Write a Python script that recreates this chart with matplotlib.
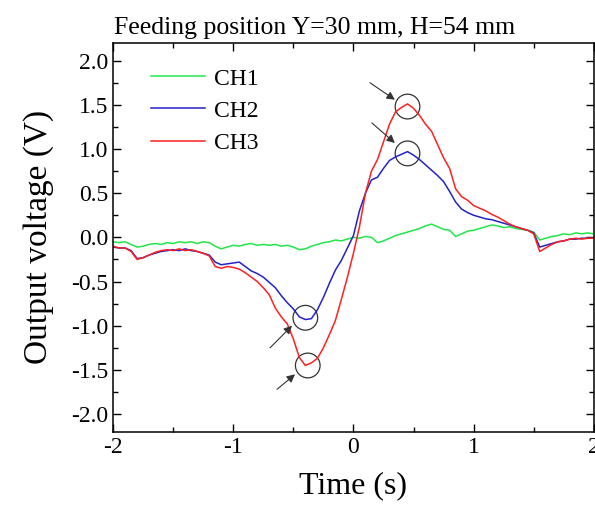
import numpy as np
import matplotlib.pyplot as plt
from matplotlib.patches import Ellipse

plt.rcParams['font.family'] = ['Liberation Serif', 'DejaVu Serif']
plt.rcParams['axes.unicode_minus'] = False

# time axis, sampled every 0.05 s from -2 to 2
time = np.round(np.arange(-2.0, 2.0001, 0.05), 2)

ch1 = [-0.05, -0.06, -0.05, -0.08, -0.11, -0.10, -0.08, -0.07, -0.08, -0.06,
       -0.07, -0.05, -0.06, -0.05, -0.07, -0.05, -0.06, -0.10, -0.13, -0.11,
       -0.09, -0.10, -0.08, -0.07, -0.09, -0.08, -0.09, -0.08, -0.10, -0.09,
       -0.11, -0.14, -0.13, -0.10, -0.08, -0.06, -0.05, -0.03, -0.04, -0.02,
       0.00, -0.01, 0.01, 0.00, -0.06, -0.04, -0.01, 0.02, 0.04, 0.06,
       0.08, 0.10, 0.13, 0.15, 0.12, 0.09, 0.08, 0.01, 0.04, 0.07,
       0.08, 0.10, 0.12, 0.14, 0.13, 0.11, 0.12, 0.10, 0.09, 0.08,
       0.06, -0.03, -0.01, 0.01, 0.02, 0.04, 0.03, 0.05, 0.04, 0.05,
       0.04]

ch2 = [-0.11, -0.12, -0.12, -0.15, -0.24, -0.23, -0.20, -0.18, -0.16, -0.15,
       -0.14, -0.15, -0.13, -0.15, -0.16, -0.18, -0.20, -0.28, -0.31, -0.30,
       -0.29, -0.28, -0.33, -0.38, -0.41, -0.45, -0.51, -0.57, -0.66, -0.74,
       -0.81, -0.90, -0.93, -0.92, -0.82, -0.68, -0.52, -0.37, -0.26, -0.12,
       0.02, 0.30, 0.50, 0.65, 0.68, 0.78, 0.87, 0.91, 0.94, 0.97,
       0.93, 0.88, 0.82, 0.76, 0.70, 0.63, 0.52, 0.40, 0.32, 0.28,
       0.25, 0.23, 0.21, 0.20, 0.18, 0.16, 0.14, 0.12, 0.10, 0.08,
       0.05, -0.11, -0.09, -0.07, -0.05, -0.04, -0.02, -0.02, -0.01, -0.01,
       -0.01]

ch3 = [-0.10, -0.12, -0.12, -0.16, -0.25, -0.23, -0.20, -0.17, -0.15, -0.14,
       -0.15, -0.13, -0.15, -0.14, -0.16, -0.18, -0.21, -0.33, -0.35, -0.33,
       -0.34, -0.36, -0.40, -0.45, -0.50, -0.57, -0.65, -0.80, -0.90, -0.98,
       -1.15, -1.36, -1.45, -1.42, -1.37, -1.25, -1.10, -0.94, -0.70, -0.45,
       -0.18, 0.12, 0.50, 0.75, 0.88, 1.08, 1.28, 1.42, 1.47, 1.51,
       1.46, 1.38, 1.28, 1.20, 1.05, 0.90, 0.78, 0.55, 0.46, 0.42,
       0.36, 0.33, 0.30, 0.26, 0.23, 0.19, 0.15, 0.12, 0.10, 0.08,
       0.04, -0.16, -0.12, -0.08, -0.05, -0.04, -0.02, -0.01, -0.02, -0.01,
       -0.01]

fig = plt.figure(figsize=(5.95, 5.05), dpi=100)
ax = fig.add_axes([0.19, 0.145, 0.808, 0.77])

ax.plot(time, ch1, color='#22e64a', lw=1.1, label='CH1')
ax.plot(time, ch2, color='#2323c8', lw=1.1, label='CH2')
ax.plot(time, ch3, color='#ff2020', lw=1.1, label='CH3')

# circles marking the peaks
for cx, cy in [(0.45, 1.48), (0.45, 0.95), (-0.40, -0.91), (-0.38, -1.45)]:
    ax.add_patch(Ellipse((cx, cy), 0.205, 0.28, fill=False, ec='#333333', lw=0.9))

arrows = [((0.137, 1.75), (0.345, 1.557)),
          ((0.153, 1.295), (0.345, 1.068)),
          ((-0.694, -1.25), (-0.511, -1.0)),
          ((-0.636, -1.72), (-0.486, -1.55))]
for tail, head in arrows:
    ax.annotate('', xy=head, xytext=tail,
                arrowprops=dict(arrowstyle='-|>', color='#333333', lw=0.8,
                                mutation_scale=12, shrinkA=0, shrinkB=0))

ax.set_xlim(-2, 2)
ax.set_ylim(-2.2, 2.2)
ax.set_xticks([-2, -1, 0, 1, 2])
ax.set_xticks(np.arange(-2, 2.01, 0.5), minor=True)
ax.set_yticks(np.arange(-2.0, 2.01, 0.5))
ax.set_yticks(np.arange(-2.0, 2.01, 0.25), minor=True)
ax.set_yticklabels(['%.1f' % v for v in np.arange(-2.0, 2.01, 0.5)])
ax.tick_params(which='both', direction='in', top=True, right=True, labelsize=17)
ax.tick_params(which='major', length=6, width=1)
ax.tick_params(which='minor', length=3.5, width=1)
for s in ax.spines.values():
    s.set_linewidth(1.1)

ax.set_xlabel('Time (s)', fontsize=23, labelpad=10)
ax.set_ylabel('Output voltage (V)', fontsize=24, labelpad=12)

fig.text(0.192, 0.945, 'Feeding position Y=30 mm, H=54 mm', fontsize=18.5,
         ha='left', va='center')

ax.legend(loc='upper left', bbox_to_anchor=(0.035, 0.99), frameon=False,
          fontsize=17, handlelength=2.3, handletextpad=0.35, labelspacing=0.45)

plt.savefig('out.png', dpi=100)
